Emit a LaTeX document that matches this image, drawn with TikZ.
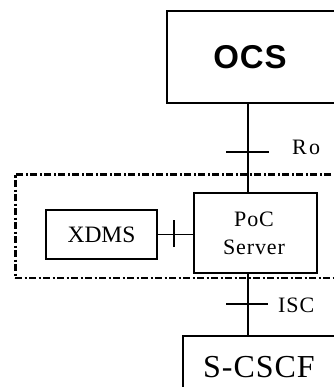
\documentclass[tikz,border=0pt]{standalone}
\usepackage{fontspec}
\setmainfont{Liberation Serif}
\newfontfamily\headfont{Liberation Sans}[LetterSpace=3]
\newfontfamily\labelfont{Liberation Serif}[LetterSpace=4]
\newfontfamily\widelabelfont{Liberation Serif}[LetterSpace=10]
\newfontfamily\titlefont{Liberation Serif}[LetterSpace=3]
\begin{document}
\begin{tikzpicture}[x=1pt,y=-1pt,
  box/.style={draw, line width=1.3pt, inner sep=0pt},
  link/.style={line width=1.3pt},
  pocdomain/.style={line width=3pt, dash pattern=on 7pt off 2.5pt on 2pt off 2.5pt},
  lbl/.style={font=\labelfont\fontsize{22}{24}\selectfont, inner sep=0pt}]
\useasboundingbox (0,0) rectangle (333,387);

% element boxes
\node[box, minimum width=168pt, minimum height=92pt] (ocs) at (251,57) {};
\node[font=\headfont\bfseries\fontsize{33}{35}\selectfont, inner sep=0pt] (ocslabel) at (250,57) {OCS};

\node[box, minimum width=123pt, minimum height=80pt] (poc) at (255.5,233) {};
\node[lbl] (poclabel) at (254,219) {PoC};
\node[lbl] (serverlabel) at (254,247) {Server};

\node[box, minimum width=111pt, minimum height=49pt, font=\fontsize{23.5}{25}\selectfont] (xdms) at (101.5,234.5) {XDMS};

\node[box, minimum width=152pt, minimum height=56pt] (scscf) at (259,364) {};
\node[font=\titlefont\fontsize{32}{34}\selectfont, inner sep=0pt] (scscflabel) at (259,367) {S-CSCF};

% PoC domain boundary (dash-dot)
\draw[pocdomain] (345,174) -- (15,174) -- (15,278);
\draw[pocdomain, line width=2.2pt] (15,278) -- (345,278);

% reference points
\coordinate (bus) at (248,0);
\coordinate (ro) at (248,152);
\coordinate (isc) at (248,304);
\coordinate (pocleft) at (174,234);

\draw[link] (ocs.south -| bus) -- (poc.north -| bus);
\draw[link] ([xshift=-22pt]ro) -- ([xshift=21pt]ro);
\node[lbl, font=\widelabelfont\fontsize{22}{24}\selectfont, anchor=west] (rolabel) at (292,147) {Ro};

\draw[link] (poc.south -| bus) -- (scscf.north -| bus);
\draw[link] ([xshift=-22pt]isc) -- ([xshift=20pt]isc);
\node[lbl, anchor=west] (isclabel) at (278,305) {ISC};

\draw[link] (xdms.east) -- (poc.west |- xdms.east);
\draw[link] ([yshift=-13pt]pocleft) -- ([yshift=14pt]pocleft);
\end{tikzpicture}
\end{document}
